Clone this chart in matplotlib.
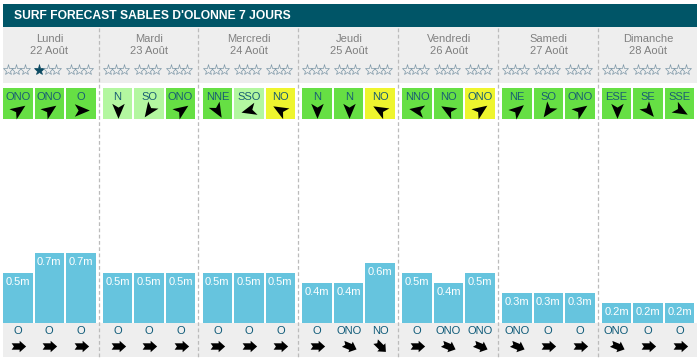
import numpy as np
import matplotlib
matplotlib.use("Agg")
import matplotlib.pyplot as plt
from matplotlib.markers import MarkerStyle
from matplotlib.path import Path
from matplotlib.transforms import Affine2D
from matplotlib.patches import Rectangle

plt.rcParams['font.family'] = ['Liberation Sans', 'DejaVu Sans']

title = "SURF FORECAST SABLES D'OLONNE 7 JOURS"
days = ["Lundi", "Mardi", "Mercredi", "Jeudi", "Vendredi", "Samedi", "Dimanche"]
dates = ["22 Août", "23 Août", "24 Août", "25 Août", "26 Août", "27 Août", "28 Août"]

# stars filled per slot (0-3)
stars = [[0, 1, 0], [0, 0, 0], [0, 0, 0], [0, 0, 0], [0, 0, 0], [0, 0, 0], [0, 0, 0]]

wind_dir = [["ONO", "ONO", "O"], ["N", "SO", "ONO"], ["NNE", "SSO", "NO"],
            ["N", "N", "NO"], ["NNO", "NO", "ONO"], ["NE", "SO", "ONO"],
            ["ESE", "SE", "SSE"]]
# 1 = light, 2 = medium, 3 = strong
wind_level = [[2, 2, 2], [1, 1, 2], [2, 1, 3], [2, 2, 3], [2, 2, 3], [2, 2, 2], [2, 2, 2]]

wave_h = [[0.5, 0.7, 0.7], [0.5, 0.5, 0.5], [0.5, 0.5, 0.5], [0.4, 0.4, 0.6],
          [0.5, 0.4, 0.5], [0.3, 0.3, 0.3], [0.2, 0.2, 0.2]]

swell_dir = [["O", "O", "O"], ["O", "O", "O"], ["O", "O", "O"], ["O", "ONO", "NO"],
             ["O", "ONO", "ONO"], ["ONO", "O", "O"], ["ONO", "O", "O"]]

# arrow angle on screen (deg, ccw from right) as drawn on the site
wind_angle = {"O": 0, "ONO": 35, "N": -90, "SO": -125, "NNE": -60, "SSO": -165,
              "NO": 150, "NNO": 170, "NE": 40, "ESE": -90, "SE": -50, "SSE": -30}
compass = {"N": 0, "NNE": 22.5, "NE": 45, "ENE": 67.5, "E": 90, "ESE": 112.5,
           "SE": 135, "SSE": 157.5, "S": 180, "SSO": 202.5, "SO": 225, "OSO": 247.5,
           "O": 270, "ONO": 292.5, "NO": 315, "NNO": 337.5}

level_col = {1: "#b3f7a0", 2: "#66df44", 3: "#eef52e"}

W, H = 700, 363
fig = plt.figure(figsize=(7, 3.63), dpi=100)
ax = fig.add_axes([0, 0, 1, 1])
ax.set_xlim(0, W)
ax.set_ylim(H, 0)
ax.axis('off')

colw = 99.8
x0 = 3
offs = [0, 31.5, 63]
bw = 29.5

# header / backgrounds
ax.add_patch(Rectangle((3, 4), 694, 23, color="#005567", lw=0))
ax.text(14, 16, title, color="white", fontsize=8.7, fontweight="bold", va="center")
ax.add_patch(Rectangle((3, 27), 694, 56, color="#eeeeee", lw=0))
ax.add_patch(Rectangle((3, 323), 694, 34, color="#eeeeee", lw=0))

for i in range(1, 7):
    xs = x0 + colw * i - 4.2
    ax.plot([xs, xs], [28, 357], color="#bbbbbb", lw=0.9, ls=(0, (3, 2)))

head = Path([(1, 0), (-0.8, 0.75), (-0.35, 0), (-0.8, -0.75), (1, 0)],
            [Path.MOVETO, Path.LINETO, Path.LINETO, Path.LINETO, Path.CLOSEPOLY])
fat = Path([(1, 0), (0.15, 0.75), (0.15, 0.42), (-0.9, 0.42), (-0.6, 0),
            (-0.9, -0.42), (0.15, -0.42), (0.15, -0.75), (1, 0)],
           [Path.MOVETO] + [Path.LINETO] * 7 + [Path.CLOSEPOLY])

centers = []
for i in range(7):
    cx_day = x0 + colw * i + 46.5
    ax.text(cx_day, 39.5, days[i], color="#808080", fontsize=8, ha="center", va="center")
    ax.text(cx_day, 51, dates[i], color="#808080", fontsize=8, ha="center", va="center")
    for j in range(3):
        left = x0 + colw * i + offs[j]
        cx = left + bw / 2
        centers.append(cx)
        # stars
        for k in range(3):
            sx = cx - 1.5 + (k - 1) * 8.3
            filled = k < stars[i][j]
            ax.plot(sx, 70, marker="*", ms=8, mew=0.5,
                    mfc="#0b4a62" if filled else "none",
                    mec="#0b4a62" if filled else "#7e98a8")
        # wind box
        ax.add_patch(Rectangle((left, 88), bw, 30.5, color=level_col[wind_level[i][j]], lw=0))
        ax.text(cx, 96.5, wind_dir[i][j], color="#195e73", fontsize=8, ha="center", va="center")
        m = MarkerStyle(head, transform=Affine2D().rotate_deg(wind_angle[wind_dir[i][j]]))
        ax.plot(cx, 109.5, marker=m, ms=12, color="black", mew=0)
        # swell
        ax.text(cx, 331, swell_dir[i][j], color="#0e5a78", fontsize=8, ha="center", va="center")
        ang = 90 - (compass[swell_dir[i][j]] + 180)
        m2 = MarkerStyle(fat, transform=Affine2D().rotate_deg(ang))
        ax.plot(cx, 345.5, marker=m2, ms=11, color="black", mew=0)

# wave bars on their own axes: 100 px per metre, base at y=323
bax = fig.add_axes([0, (H - 323) / H, 1, 200 / H])
bax.set_xlim(0, W)
bax.set_ylim(0, 2.0)
bax.axis('off')
heights = np.array(wave_h).ravel()
bax.bar(centers, heights, width=bw, color="#66c4de", lw=0)
for cx, h in zip(centers, heights):
    bax.text(cx, h - 0.09, f"{h:.1f}m", color="white", fontsize=8, ha="center", va="center")

fig.savefig("out.png", dpi=100)
